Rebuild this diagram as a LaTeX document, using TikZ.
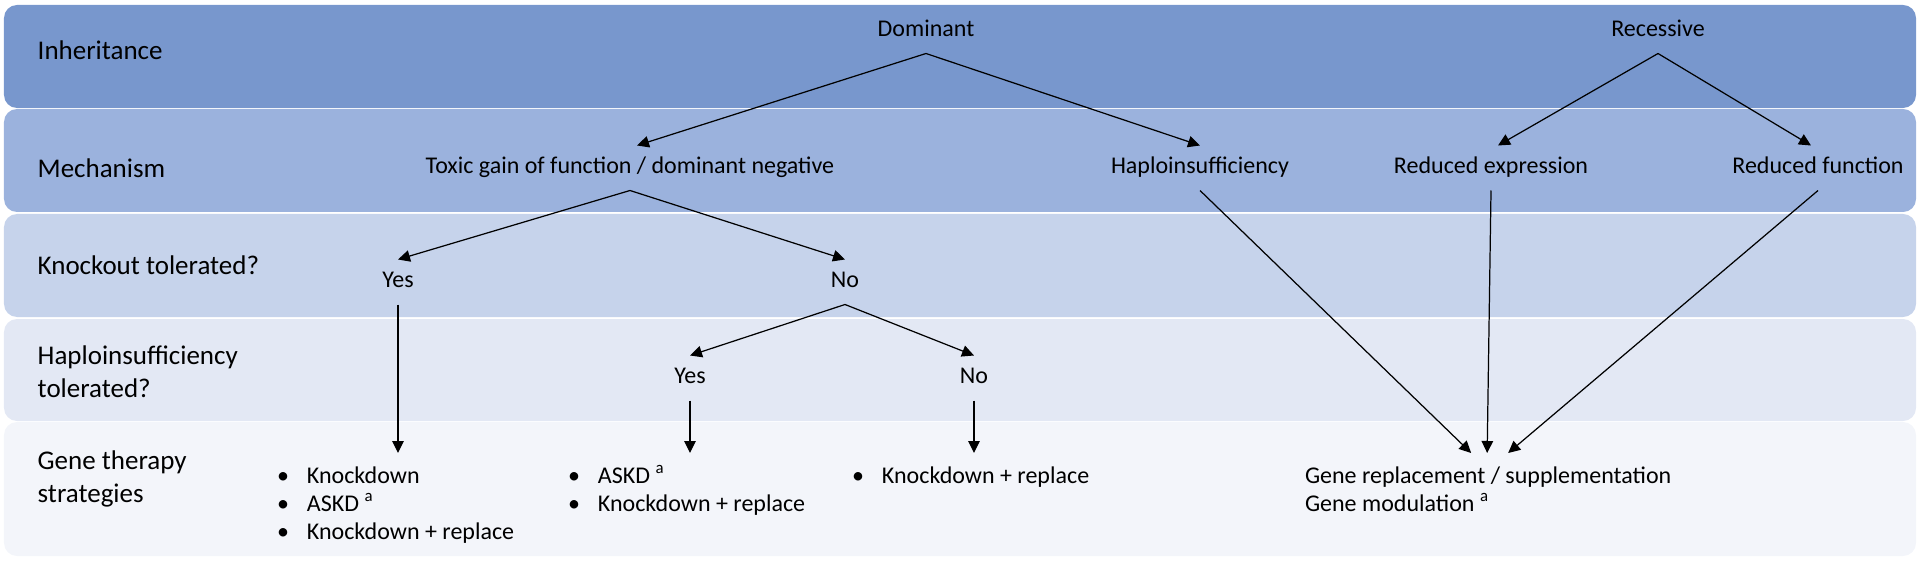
\documentclass[tikz,border=0pt]{standalone}
\usepackage{fontspec}
\setmainfont{Carlito}
\usetikzlibrary{arrows.meta}
\definecolor{bandA}{RGB}{120,151,205}
\definecolor{bandB}{RGB}{155,178,221}
\definecolor{bandC}{RGB}{198,211,235}
\definecolor{bandD}{RGB}{227,232,244}
\definecolor{bandE}{RGB}{243,245,250}
\begin{document}
\begin{tikzpicture}[x=1cm,y=-1cm,
  band/.style={rounded corners=0.13cm},
  row/.style={anchor=west,align=left,inner sep=0pt,font=\fontsize{7.68}{9.39}\selectfont},
  lbl/.style={inner sep=0pt,outer sep=0.12cm,text height=0.16cm,text depth=0.05cm,font=\fontsize{6.83}{8.2}\selectfont},
  lst/.style={anchor=north west,inner sep=0pt,outer sep=0.11cm,font=\fontsize{6.83}{7.97}\selectfont},
  arr/.style={-{Triangle[length=0.12cm,width=0.115cm]},line width=0.35pt}]
\useasboundingbox (0,0) rectangle (19.2,5.63);

\fill[band,bandA] (0.04,0.05) rectangle (19.16,1.08);
\fill[band,bandB] (0.04,1.09) rectangle (19.16,2.12);
\fill[band,bandC] (0.04,2.14) rectangle (19.16,3.17);
\fill[band,bandD] (0.04,3.19) rectangle (19.16,4.21);
\fill[band,bandE] (0.04,4.22) rectangle (19.16,5.56);

\node[row] (inh) at (0.37,0.50) {Inheritance};
\node[row] (mech) at (0.37,1.68) {Mechanism};
\node[row] (ko) at (0.37,2.65) {Knockout tolerated?};
\node[row] (hi) at (0.37,3.715) {Haploinsufficiency\\tolerated?};
\node[row] (gt) at (0.37,4.785) {Gene therapy\\strategies};

\node[lbl] (dom) at (9.26,0.31) {Dominant};
\node[lbl] (rec) at (16.58,0.31) {Recessive};
\node[lbl] (tox) at (6.30,1.68) {Toxic gain of function / dominant negative};
\node[lbl] (hap) at (12.00,1.68) {Haploinsufficiency};
\node[lbl] (rexp) at (14.91,1.68) {Reduced expression};
\node[lbl] (rfun) at (18.18,1.68) {Reduced function};
\node[lbl] (yes) at (3.98,2.82) {Yes};
\node[lbl] (no) at (8.45,2.82) {No};
\node[lbl] (yes2) at (6.90,3.78) {Yes};
\node[lbl] (no2) at (9.74,3.78) {No};

\node[lst] (l1) at (2.66,4.53) {\begin{tabular}{@{}l@{\hspace{0.18cm}}l@{}}
\textbullet & Knockdown\\
\textbullet & ASKD \textsuperscript{a}\\
\textbullet & Knockdown + replace
\end{tabular}};
\node[lst] (l2) at (5.57,4.53) {\begin{tabular}{@{}l@{\hspace{0.18cm}}l@{}}
\textbullet & ASKD \textsuperscript{a}\\
\textbullet & Knockdown + replace
\end{tabular}};
\node[lst] (l3) at (8.41,4.53) {\begin{tabular}{@{}l@{\hspace{0.18cm}}l@{}}
\textbullet & Knockdown + replace
\end{tabular}};
\node[lst] (gene) at (12.94,4.53) {\begin{tabular}{@{}l@{}}
Gene replacement / supplementation\\
Gene modulation \textsuperscript{a}
\end{tabular}};

\draw[arr] (dom.south) -- ([xshift=0.07cm]tox.north);
\draw[arr] (dom.south) -- (hap.north);
\draw[arr] (rec.south) -- ([xshift=0.07cm]rexp.north);
\draw[arr] (rec.south) -- ([xshift=-0.07cm]rfun.north);

\draw[arr] (tox.south) -- (yes.north);
\draw[arr] (tox.south) -- (no.north);
\draw[arr] (no.south) -- (yes2.north);
\draw[arr] (no.south) -- (no2.north);

\draw[arr] (yes) -- (yes |- l1.north);
\draw[arr] (yes2) -- (yes2 |- l2.north);
\draw[arr] (no2) -- (no2 |- l3.north);

\draw[arr] (hap.south) -- ([xshift=-0.17cm]gene.north);
\draw[arr] (rexp.south) -- ([xshift=-0.01cm]gene.north);
\draw[arr] (rfun.south) -- ([xshift=0.2cm]gene.north);
\end{tikzpicture}
\end{document}
